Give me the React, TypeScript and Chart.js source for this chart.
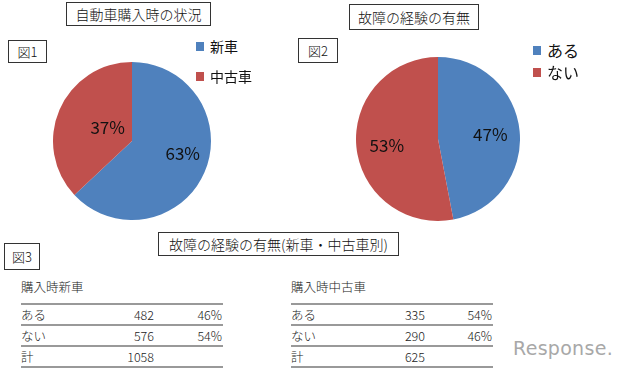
import React, { useEffect, useRef } from "react";
import { Chart, registerables } from "chart.js";

Chart.register(...registerables);

// ---- data ----
const pie1Labels = ["新車", "中古車"];
const pie1Values = [63, 37];
const pie2Labels = ["ある", "ない"];
const pie2Values = [47, 53];

const tableNewTitle = "購入時新車";
const tableUsedTitle = "購入時中古車";
const rowLabels = ["ある", "ない", "計"];
const newCounts = [482, 576, 1058];
const newPercents = ["46%", "54%", ""];
const usedCounts = [335, 290, 625];
const usedPercents = ["54%", "46%", ""];

const title1 = "自動車購入時の状況";
const title2 = "故障の経験の有無";
const title3 = "故障の経験の有無(新車・中古車別)";

// ---- style ----
const BLUE = "#4F81BD";
const RED = "#C0504D";
const JP = '"Noto Sans CJK JP", "Noto Sans", sans-serif';
const W = 300;

type PieProps = {
  labels: string[];
  values: number[];
  left: number;
  top: number;
  size: number;
  labelFrac: number[];
  labelAngleOffset: number[];
};

const percentLabelPlugin = {
  id: "percentLabels",
  afterDatasetsDraw(chart: any, _args: any, opts: any) {
    const ctx = chart.ctx;
    const meta = chart.getDatasetMeta(0);
    const data = chart.data.datasets[0].data as number[];
    ctx.save();
    ctx.font = `400 17px ${JP}`;
    ctx.fillStyle = "#111";
    ctx.textAlign = "center";
    ctx.textBaseline = "middle";
    meta.data.forEach((arc: any, i: number) => {
      const p = arc.getProps(["x", "y", "startAngle", "endAngle", "outerRadius"], true);
      const mid = (p.startAngle + p.endAngle) / 2 + ((opts.angleOffset?.[i] || 0) * Math.PI) / 180;
      const r = p.outerRadius * (opts.frac?.[i] ?? 0.6);
      ctx.fillText(`${data[i]}%`, p.x + Math.cos(mid) * r, p.y + Math.sin(mid) * r);
    });
    ctx.restore();
  },
};

function Pie({ labels, values, left, top, size, labelFrac, labelAngleOffset }: PieProps) {
  const ref = useRef<HTMLCanvasElement | null>(null);
  useEffect(() => {
    if (!ref.current) return;
    const chart = new Chart(ref.current, {
      type: "pie",
      data: {
        labels,
        datasets: [
          {
            data: values,
            backgroundColor: [BLUE, RED],
            borderWidth: 0,
            hoverOffset: 0,
            offset: 0,
          },
        ],
      },
      options: {
        responsive: false,
        maintainAspectRatio: false,
        animation: false,
        events: [],
        layout: { padding: 0 },
        plugins: {
          legend: { display: false },
          tooltip: { enabled: false },
          percentLabels: { frac: labelFrac, angleOffset: labelAngleOffset },
        } as any,
      },
      plugins: [percentLabelPlugin],
    });
    return () => chart.destroy();
  }, []);
  return (
    <canvas
      ref={ref}
      width={size}
      height={size}
      style={{ position: "absolute", left, top, width: size, height: size }}
    />
  );
}

function Box({ left, top, width, height, text, size }: any) {
  return (
    <div
      style={{
        position: "absolute",
        left,
        top,
        width,
        height,
        boxSizing: "border-box",
        border: "1px solid #333",
        background: "#fff",
        display: "flex",
        alignItems: "center",
        justifyContent: "center",
        fontFamily: JP,
        fontWeight: W,
        fontSize: size,
        color: "#111",
        whiteSpace: "nowrap",
      }}
    >
      {text}
    </div>
  );
}

function Legend({ left, top, gap, labels, size }: any) {
  return (
    <>
      {labels.map((l: string, i: number) => (
        <div
          key={l}
          style={{
            position: "absolute",
            left,
            top: top + i * gap,
            height: 20,
            display: "flex",
            alignItems: "center",
            fontFamily: JP,
            fontWeight: 400,
            fontSize: size,
            color: "#111",
            whiteSpace: "nowrap",
          }}
        >
          <span style={{ display: "inline-block", width: 8, height: 9, background: i === 0 ? BLUE : RED, marginRight: 6 }} />
          {l}
        </div>
      ))}
    </>
  );
}

function DataTable({ x0, x1, numRight, pctRight, title, counts, percents }: any) {
  const headerY = 287;
  const lineYs = [304, 325, 346, 367];
  const text = (content: any, style: any, key: string) => (
    <div
      key={key}
      style={{
        position: "absolute",
        height: 20,
        lineHeight: "20px",
        fontFamily: JP,
        fontWeight: W,
        fontSize: 12.5,
        color: "#222",
        whiteSpace: "nowrap",
        ...style,
      }}
    >
      {content}
    </div>
  );
  const items: any[] = [];
  items.push(text(title, { left: x0, top: headerY - 10 }, "title"));
  lineYs.forEach((y, i) =>
    items.push(
      <div key={"l" + i} style={{ position: "absolute", left: x0, top: y - 1, width: x1 - x0, height: 1.5, background: "#999" }} />
    )
  );
  rowLabels.forEach((lab, i) => {
    const cy = (lineYs[i] + lineYs[i + 1]) / 2;
    items.push(text(lab, { left: x0, top: cy - 10 }, "r" + i));
    items.push(text(String(counts[i]), { right: 640 - numRight, top: cy - 10, textAlign: "right" }, "c" + i));
    if (percents[i]) items.push(text(percents[i], { right: 640 - pctRight, top: cy - 10, textAlign: "right" }, "p" + i));
  });
  return <>{items}</>;
}

export default function App() {
  return (
    <div
      style={{
        position: "fixed",
        left: 0,
        top: 0,
        width: 640,
        height: 372,
        background: "#fff",
        overflow: "hidden",
      }}
    >
      <Box left={66} top={2} width={145} height={24} text={title1} size={14} />
      <Box left={8} top={40} width={39} height={23} text="図1" size={13} />
      <Pie
        labels={pie1Labels}
        values={pie1Values}
        left={53}
        top={62}
        size={158}
        labelFrac={[0.66, 0.35]}
        labelAngleOffset={[-10, 5]}
      />
      <Legend left={196} top={36} gap={30} labels={pie1Labels} size={14} />

      <Box left={349} top={4} width={130} height={26} text={title2} size={14} />
      <Box left={298} top={38} width={40} height={25} text="図2" size={13} />
      <Pie
        labels={pie2Labels}
        values={pie2Values}
        left={356}
        top={57}
        size={164}
        labelFrac={[0.64, 0.63]}
        labelAngleOffset={[1, -2.4]}
      />
      <Legend left={533} top={40} gap={22} labels={pie2Labels} size={16} />

      <Box left={4} top={243} width={36} height={27} text="図3" size={13} />
      <Box left={158} top={232} width={241} height={24} text={title3} size={14} />

      <DataTable x0={21} x1={223} numRight={154} pctRight={222} title={tableNewTitle} counts={newCounts} percents={newPercents} />
      <DataTable x0={291} x1={493} numRight={425} pctRight={492} title={tableUsedTitle} counts={usedCounts} percents={usedPercents} />

      <div
        style={{
          position: "absolute",
          left: 513,
          top: 336,
          height: 24,
          lineHeight: "24px",
          fontFamily: '"DejaVu Sans", sans-serif',
          fontSize: 19,
          color: "#a8a8a8",
          letterSpacing: 0.3,
          whiteSpace: "nowrap",
        }}
      >
        Response.
      </div>
    </div>
  );
}
